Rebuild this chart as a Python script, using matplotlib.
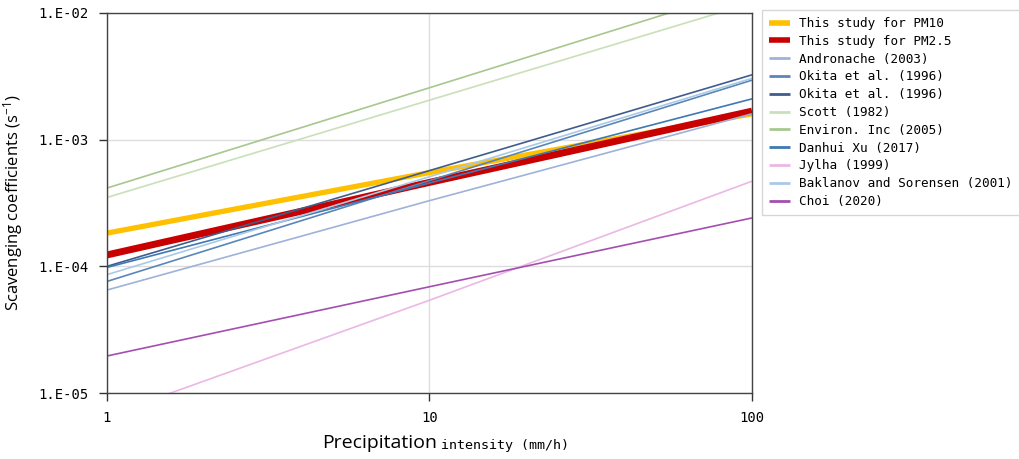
import matplotlib
matplotlib.use('Agg')
import matplotlib.pyplot as plt
from matplotlib.ticker import FixedLocator, NullLocator

intensity = [1, 10, 100]

# Scavenging coefficients (s^-1) per study
pm10 = [1.83e-4, 5.5e-4, 1.6e-3]
pm25 = [1.23e-4, 4.6e-4, 1.68e-3]
andronache = [6.5e-5, 3.3e-4, 1.6e-3]
okita1 = [7.6e-5, 4.75e-4, 2.95e-3]
okita2 = [1.0e-4, 5.7e-4, 3.25e-3]
scott = [3.5e-4, 2.05e-3, 1.2e-2]
environ = [4.15e-4, 2.57e-3, 1.6e-2]
danhui = [9.8e-5, 4.55e-4, 2.1e-3]
jylha = [6.6e-6, 5.4e-5, 4.7e-4]
baklanov = [8.6e-5, 5.1e-4, 3.05e-3]
choi = [1.96e-5, 6.9e-5, 2.41e-4]

labels = ['This study for PM10', 'This study for PM2.5', 'Andronache (2003)',
          'Okita et al. (1996)', 'Okita et al. (1996)', 'Scott (1982)',
          'Environ. Inc (2005)', 'Danhui Xu (2017)', 'Jylha (1999)',
          'Baklanov and Sorensen (2001)', 'Choi (2020)']
series = [pm10, pm25, andronache, okita1, okita2, scott, environ, danhui,
          jylha, baklanov, choi]
colors = ['#ffc000', '#c80000', '#9fb2d9', '#5a86b9', '#3f5d8c', '#c9e0b9',
          '#a8c78e', '#3f78b2', '#ebb8e3', '#a9c9e6', '#a44fb0']
widths = [3.8, 5.0] + [1.2] * 9

y_ticks = [1e-5, 1e-4, 1e-3, 1e-2]
y_tick_labels = ['1.E-05', '1.E-04', '1.E-03', '1.E-02']
x_ticks = [1, 10, 100]
x_tick_labels = ['1', '10', '100']

plt.rcParams['mathtext.fontset'] = 'custom'
plt.rcParams['mathtext.rm'] = 'Open Sans'
plt.rcParams['mathtext.it'] = 'Open Sans'

fig = plt.figure(figsize=(10.2, 4.59), dpi=100)
ax = fig.add_axes([107/1020, 1 - 393/459, (752-107)/1020, (393-13)/459])

for vals, lab, c, w in zip(series, labels, colors, widths):
    ax.plot(intensity, vals, color=c, lw=w, label=lab, solid_capstyle='butt')

ax.set_xscale('log')
ax.set_yscale('log')
ax.set_xlim(1, 100)
ax.set_ylim(1e-5, 1e-2)

ax.xaxis.set_major_locator(FixedLocator(x_ticks))
ax.xaxis.set_minor_locator(NullLocator())
ax.yaxis.set_major_locator(FixedLocator(y_ticks))
ax.yaxis.set_minor_locator(NullLocator())
ax.set_xticklabels(x_tick_labels, family='DejaVu Sans Mono', fontsize=10)
ax.set_yticklabels(y_tick_labels, family='DejaVu Sans Mono', fontsize=10)
ax.tick_params(direction='out', length=6, width=1, color='#333333', pad=7)
ax.grid(True, color='#dddddd', lw=1)
ax.set_axisbelow(True)
for s in ax.spines.values():
    s.set_color('#444444')
    s.set_linewidth(1)

ax.set_ylabel('Scavenging coefficients (s$^{\\mathregular{-1}}$)', fontsize=12,
              labelpad=10, family='Open Sans')

# x label: mixed sizes
fig.text(437/1020, 1 - 443/459, 'Precipitation', ha='right', va='center',
         fontsize=14, family='Open Sans')
fig.text(441/1020, 1 - 445/459, 'intensity (mm/h)', ha='left', va='center',
         fontsize=9.6, family='DejaVu Sans Mono')

leg = fig.legend(loc='upper left', bbox_to_anchor=(762/1020, 1 - 10/459),
                 prop={'family': 'DejaVu Sans Mono', 'size': 9.1},
                 frameon=True, fancybox=False, edgecolor='#cccccc',
                 handlelength=1.7, labelspacing=0.38, borderpad=0.55,
                 handletextpad=0.7, borderaxespad=0)
for line in leg.get_lines():
    if line.get_linewidth() < 2:
        line.set_linewidth(2)
    else:
        line.set_linewidth(4)

fig.savefig('out.png', dpi=100)
